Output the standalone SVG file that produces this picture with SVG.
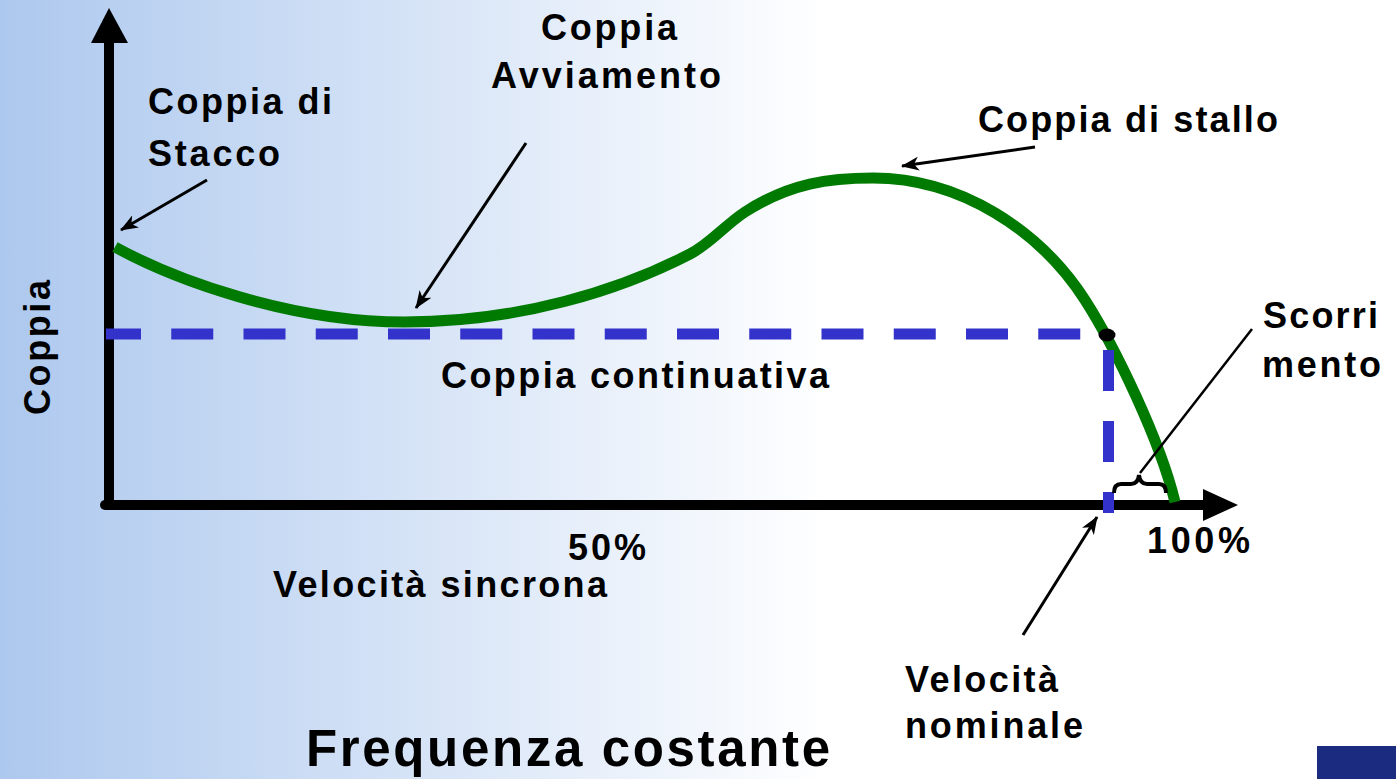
<svg xmlns="http://www.w3.org/2000/svg" width="1396" height="779" viewBox="0 0 1396 779">
  <defs>
    <linearGradient id="bg" gradientUnits="userSpaceOnUse" x1="0" y1="0" x2="830" y2="0">
      <stop offset="0" stop-color="#adc8ee"/>
      <stop offset="1" stop-color="#ffffff"/>
    </linearGradient>
    <marker id="arr" viewBox="0 0 18 14" refX="17" refY="7" markerWidth="18" markerHeight="14" markerUnits="userSpaceOnUse" orient="auto">
      <path d="M0,0 L18,7 L0,14 L5,7 Z" fill="#000"/>
    </marker>
    <style>
      text { font-family: "Liberation Sans", Arial, sans-serif; font-weight: bold; fill: #000; }
      .lbl { font-size: 36px; }
      .title { font-size: 51px; }
      .ptr { stroke: #000; stroke-width: 3; fill: none; marker-end: url(#arr); }
      .axis { stroke: #000; stroke-width: 10; stroke-linecap: round; fill: none; }
      .dash { stroke: #3333cc; stroke-width: 11; fill: none; }
    </style>
  </defs>

  <rect x="0" y="0" width="1396" height="779" fill="url(#bg)"/>
  <rect x="1317" y="746" width="79" height="33" fill="#1b2b80"/>

  <g id="axes">
    <line class="axis" x1="109" y1="40" x2="109" y2="505"/>
    <polygon points="109,8 91,43 128,43" fill="#000"/>
    <line class="axis" x1="105" y1="505" x2="1206" y2="505"/>
    <polygon points="1238,505 1203,489 1203,521" fill="#000"/>
  </g>

  <g id="torque-curve">
    <path d="M115,247 C175,280 290,322 405,322 C520,322 620,290 690,254 C710,244 725,225 745,212 C790,183 830,178 873,178 C960,178 1040,230 1085,300 C1115,347 1160,440 1175,502" fill="none" stroke="#007a00" stroke-width="11"/>
  </g>

  <g id="rated-lines">
    <line class="dash" x1="106" y1="334" x2="1103" y2="334" stroke-dasharray="42 30.25" stroke-dashoffset="7"/>
    <line class="dash" x1="1108.5" y1="350" x2="1108.5" y2="513" stroke-dasharray="41 30"/>
    <ellipse cx="1107" cy="335" rx="8.5" ry="6.5" fill="#000"/>
  </g>

  <g id="slip-brace">
    <path d="M1114,493 Q1114,484 1121,484 L1131,484 Q1138,484 1139,475 Q1140,484 1147,484 L1159,484 Q1166,484 1166,493" fill="none" stroke="#000" stroke-width="4"/>
  </g>

  <g id="connectors">
    <line class="ptr" x1="207" y1="180" x2="121" y2="230"/>
    <line class="ptr" x1="526" y1="143" x2="416" y2="308"/>
    <line class="ptr" x1="1035" y1="147" x2="902" y2="166"/>
    <line class="ptr" x1="1023" y1="635" x2="1097" y2="517"/>
    <line x1="1252" y1="329" x2="1140" y2="473" stroke="#000" stroke-width="2.5"/>
  </g>

  <g id="label-coppia-axis">
    <text class="lbl" x="50" y="415" transform="rotate(-90 50 415)" textLength="135" lengthAdjust="spacing">Coppia</text>
  </g>
  <g id="label-stacco">
    <text class="lbl" x="148" y="114" textLength="184" lengthAdjust="spacing">Coppia di</text>
    <text class="lbl" x="148" y="166" textLength="132" lengthAdjust="spacing">Stacco</text>
  </g>
  <g id="label-avviamento">
    <text class="lbl" x="541" y="40" textLength="136" lengthAdjust="spacing">Coppia</text>
    <text class="lbl" x="491" y="88" textLength="230" lengthAdjust="spacing">Avviamento</text>
  </g>
  <g id="label-stallo">
    <text class="lbl" x="978" y="132" textLength="300" lengthAdjust="spacing">Coppia di stallo</text>
  </g>
  <g id="label-continuativa">
    <text class="lbl" x="441" y="388" textLength="388" lengthAdjust="spacing">Coppia continuativa</text>
  </g>
  <g id="label-scorrimento">
    <text class="lbl" x="1263" y="328" textLength="115" lengthAdjust="spacing">Scorri</text>
    <text class="lbl" x="1262" y="377" textLength="119" lengthAdjust="spacing">mento</text>
  </g>
  <g id="label-50">
    <text class="lbl" x="568" y="560" textLength="78" lengthAdjust="spacing">50%</text>
  </g>
  <g id="label-sincrona">
    <text class="lbl" x="273" y="597" textLength="334" lengthAdjust="spacing">Velocità sincrona</text>
  </g>
  <g id="label-100">
    <text class="lbl" x="1147" y="553" textLength="103" lengthAdjust="spacing">100%</text>
  </g>
  <g id="label-nominale">
    <text class="lbl" x="905" y="692" textLength="153" lengthAdjust="spacing">Velocità</text>
    <text class="lbl" x="905" y="738" textLength="178" lengthAdjust="spacing">nominale</text>
  </g>
  <g id="title">
    <text class="title" x="306" y="766" textLength="524" lengthAdjust="spacing">Frequenza costante</text>
  </g>
</svg>
